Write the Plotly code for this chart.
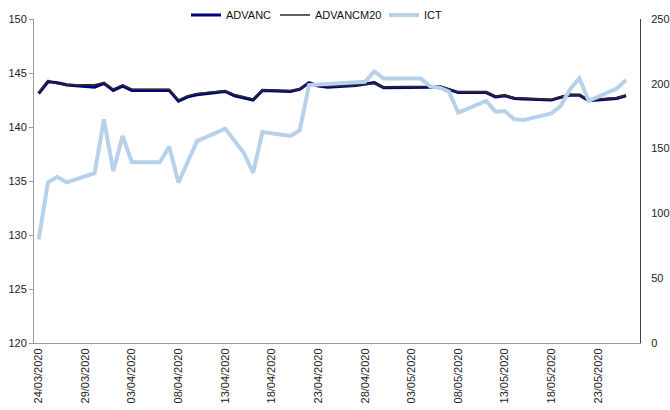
import plotly.graph_objects as go

dates = [
    "2020-03-24", "2020-03-25", "2020-03-26", "2020-03-27", "2020-03-30", "2020-03-31",
    "2020-04-01", "2020-04-02", "2020-04-03", "2020-04-06", "2020-04-07", "2020-04-08",
    "2020-04-09", "2020-04-10", "2020-04-13", "2020-04-14", "2020-04-15", "2020-04-16",
    "2020-04-17", "2020-04-20", "2020-04-21", "2020-04-22", "2020-04-23", "2020-04-24",
    "2020-04-27", "2020-04-28", "2020-04-29", "2020-04-30", "2020-05-01", "2020-05-04",
    "2020-05-05", "2020-05-06", "2020-05-07", "2020-05-08", "2020-05-11", "2020-05-12",
    "2020-05-13", "2020-05-14", "2020-05-15", "2020-05-18", "2020-05-19", "2020-05-20",
    "2020-05-21", "2020-05-22", "2020-05-25", "2020-05-26",
]

advanc = [
    143.1, 144.2, 144.1, 143.9, 143.7, 144.05,
    143.4, 143.8, 143.4, 143.4, 143.4, 142.4,
    142.8, 143.0, 143.3, 142.9, 142.7, 142.5,
    143.4, 143.3, 143.5, 144.1, 143.8, 143.7,
    143.85, 144.0, 144.1, 143.65, 143.65, 143.65,
    143.7, 143.75, 143.5, 143.2, 143.2, 142.8,
    142.9, 142.65, 142.6, 142.5, 142.75, 142.95,
    142.95, 142.45, 142.65, 142.9,
]

advanc_m20 = [
    143.2, 144.3, 144.0, 143.9, 143.9, 144.1,
    143.5, 143.9, 143.5, 143.5, 143.5, 142.5,
    142.9, 143.1, 143.35, 143.0, 142.8, 142.6,
    143.45, 143.35, 143.55, 144.05, 143.85, 143.75,
    143.85, 143.95, 144.05, 143.7, 143.7, 143.7,
    143.75, 143.8, 143.55, 143.25, 143.25, 142.85,
    142.95, 142.7, 142.65, 142.55, 142.8, 143.0,
    142.95, 142.5, 142.7, 142.95,
]

ict = [
    80, 124, 128, 124, 131, 172.6,
    132.6, 159.7, 139.5, 139.5, 151.5, 123.6,
    140, 155.8, 165.4, 155.5, 146.8, 131.3,
    162.8, 159.7, 164, 199, 199.5, 200,
    201, 201.5, 209.5, 204, 204, 204,
    198, 197, 194, 177.8, 186.8, 178.5,
    179, 172.6, 172, 177.2, 183, 195.8,
    204.3, 186.8, 196.4, 203,
]

tick_dates = [
    "2020-03-24", "2020-03-29", "2020-04-03", "2020-04-08", "2020-04-13", "2020-04-18",
    "2020-04-23", "2020-04-28", "2020-05-03", "2020-05-08", "2020-05-13", "2020-05-18",
    "2020-05-23",
]
tick_labels = [
    "24/03/2020", "29/03/2020", "03/04/2020", "08/04/2020", "13/04/2020", "18/04/2020",
    "23/04/2020", "28/04/2020", "03/05/2020", "08/05/2020", "13/05/2020", "18/05/2020",
    "23/05/2020",
]

FONT = "Liberation Sans, Arial, sans-serif"

fig = go.Figure()
fig.add_trace(go.Scatter(x=dates, y=advanc, name="ADVANC", mode="lines", legendwidth=44,
                         line=dict(color="#000080", width=3.2)))
fig.add_trace(go.Scatter(x=dates, y=advanc_m20, name="ADVANCM20", mode="lines", legendwidth=64,
                         line=dict(color="#2b2b2b", width=1.6)))
fig.add_trace(go.Scatter(x=dates, y=ict, name="ICT", mode="lines", yaxis="y2",
                         line=dict(color="#b8d1ea", width=4)))

fig.update_layout(
    width=670, height=410,
    margin=dict(l=34, r=30, t=19, b=67, autoexpand=False),
    paper_bgcolor="white", plot_bgcolor="white",
    font=dict(family=FONT, size=11, color="#222222"),
    showlegend=True,
    legend=dict(orientation="h", x=186 / 670, xanchor="left",
                xref="container", yref="container",
                y=1 - 15 / 410, yanchor="middle",
                font=dict(family=FONT, size=11, color="#111111"),
                bgcolor="rgba(0,0,0,0)", itemwidth=30, tracegroupgap=0),
    xaxis=dict(
        type="date", automargin=False,
        range=["2020-03-23 12:00", "2020-05-27 12:00"],
        tickvals=tick_dates, ticktext=tick_labels, tickangle=-90,
        showgrid=False, zeroline=False,
        showline=True, linecolor="#9a9a9a", linewidth=1,
        ticks="", tickfont=dict(size=11, color="#222222"),
    ),
    yaxis=dict(
        range=[120, 150], dtick=5, tick0=120, automargin=False,
        showgrid=False, zeroline=False,
        showline=True, linecolor="#9a9a9a", linewidth=1,
        ticks="outside", ticklen=4, tickcolor="#9a9a9a",
        tickfont=dict(size=11, color="#222222"),
    ),
    yaxis2=dict(
        range=[0, 250], dtick=50, tick0=0, automargin=False,
        overlaying="y", side="right",
        showgrid=False, zeroline=False,
        showline=True, linecolor="#404040", linewidth=1,
        ticks="", ticklabelstandoff=8,
        tickfont=dict(size=11, color="#222222"),
    ),
)

fig.write_html("out.html", config={"displayModeBar": False},
               post_script="document.body.style.margin='0';")
